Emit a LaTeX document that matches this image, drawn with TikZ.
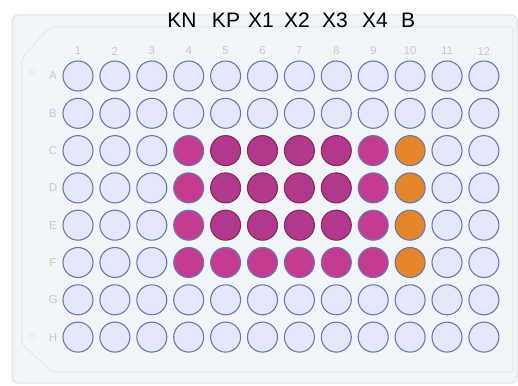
\documentclass[tikz,border=0pt]{standalone}
\usepackage{fontspec}
\setmainfont{Liberation Sans}
\definecolor{platefill}{HTML}{F2F5F8}
\definecolor{plateedge}{HTML}{DCE3E8}
\definecolor{inneredge}{HTML}{E2E9EE}
\definecolor{labgray}{HTML}{BFCAD2}
\definecolor{emptyfill}{HTML}{E4E8FA}
\definecolor{welledge}{HTML}{6A78B2}
\definecolor{magl}{HTML}{C43C91}
\definecolor{magd}{HTML}{B0398D}
\definecolor{magdedge}{HTML}{86295F}
\definecolor{orng}{HTML}{E5862B}
\tikzset{
  well/.style={circle, minimum size=30pt, inner sep=0pt, draw=welledge, line width=1.1pt, fill=emptyfill},
  wlight/.style={well, fill=magl},
  wdark/.style={well, fill=magd, draw=magdedge},
  wor/.style={well, fill=orng},
  axislab/.style={text=labgray, font=\fontsize{11.5}{13}\selectfont, inner sep=0pt},
  toplab/.style={font=\fontsize{21}{24}\selectfont, anchor=base, inner sep=0pt}
}
\begin{document}
\begin{tikzpicture}[x=1pt,y=-1pt]
\useasboundingbox (0,0) rectangle (518,385);
% plate
\draw[draw=plateedge, fill=platefill, line width=1pt, rounded corners=6pt] (12,15) rectangle (517,383);
\draw[draw=inneredge, line width=1.2pt, rounded corners=4pt]
  (50,27) -- (513,27) -- (513,372) -- (52,372) -- (22,344) -- (22,58) -- cycle;
\draw[draw=inneredge, line width=0.8pt] (32,72) circle (3.2);
\draw[draw=inneredge, line width=0.8pt] (32,336) circle (3.2);
% column numbers
\foreach \c in {1,...,12} {
  \node[axislab] (col\c) at ({78+(\c-1)*36.9},51) {\c};
}
% row letters
\foreach \r/\L in {1/A,2/B,3/C,4/D,5/E,6/F,7/G,8/H} {
  \node[axislab] (row\L) at (53,{76+(\r-1)*37.3}) {\L};
}
% wells
\foreach \r in {1,...,8} {
  \foreach \c in {1,...,12} {
    \pgfmathtruncatemacro{\kind}{
      (\r>=3 && \r<=6 && \c==10) ? 3 :
      ((\r>=3 && \r<=5 && \c>=5 && \c<=8) ? 2 :
      ((\r>=3 && \r<=6 && \c>=4 && \c<=9) ? 1 : 0))}
    \ifcase\kind
      \node[well] (w-\r-\c) at ({78+(\c-1)*36.9},{76+(\r-1)*37.3}) {};
    \or
      \node[wlight] (w-\r-\c) at ({78+(\c-1)*36.9},{76+(\r-1)*37.3}) {};
    \or
      \node[wdark] (w-\r-\c) at ({78+(\c-1)*36.9},{76+(\r-1)*37.3}) {};
    \or
      \node[wor] (w-\r-\c) at ({78+(\c-1)*36.9},{76+(\r-1)*37.3}) {};
    \fi
  }
}
% top labels
\node[toplab] (lKN) at (182,28) {KN};
\node[toplab] (lKP) at (226,28) {KP};
\node[toplab] (lX1) at (261,28) {X1};
\node[toplab] (lX2) at (297,28) {X2};
\node[toplab] (lX3) at (335,28) {X3};
\node[toplab] (lX4) at (375,28) {X4};
\node[toplab] (lB) at (408,28) {B};
\end{tikzpicture}
\end{document}
